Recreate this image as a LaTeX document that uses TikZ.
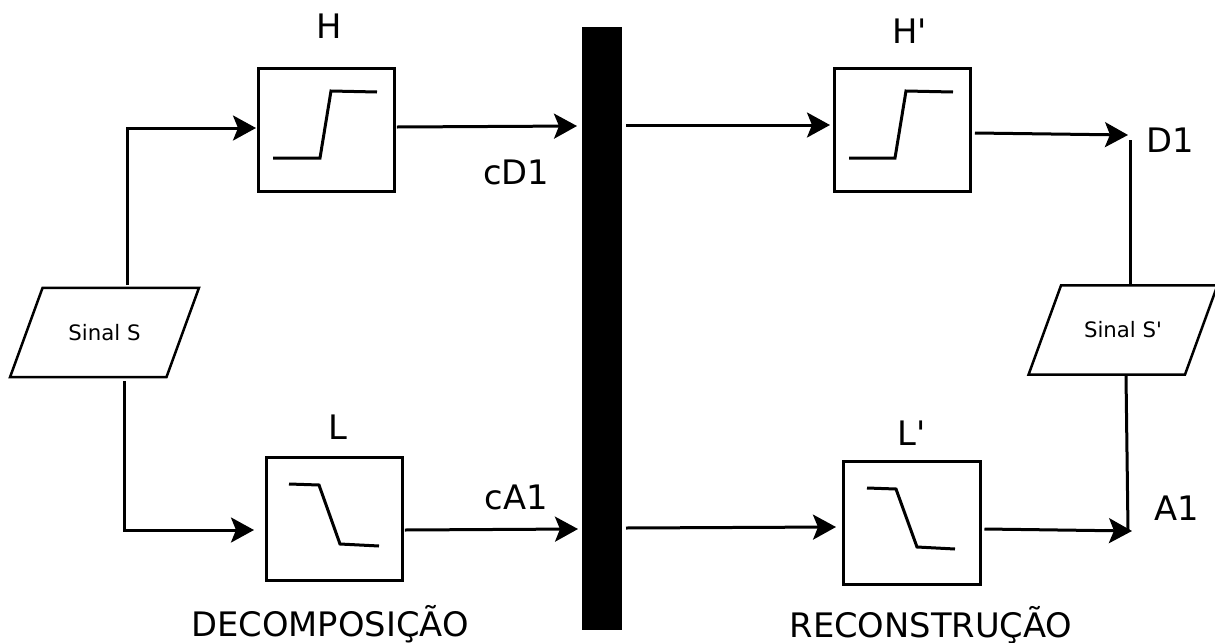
\documentclass[tikz,border=0pt]{standalone}
\usepackage{fontspec}
\setmainfont{DejaVu Sans}
\usetikzlibrary{arrows.meta, positioning, shapes.geometric}
\newcommand{\linew}{0.06cm}
\tikzstyle{filterbox} = [% filter block
  rectangle,
  minimum width=2.74cm,
  minimum height=2.48cm,
  outer sep=0pt,
  line width=\linew,
  draw=black
  ]
\tikzstyle{signalbox} = [% signal block
  trapezium,
  trapezium left angle=70,
  trapezium right angle=110,
  trapezium stretches body=true,
  minimum width=3.78cm,
  minimum height=1.78cm,
  inner xsep=0pt,
  inner ysep=0.73cm,
  outer sep=0pt,
  line width=0.05cm,
  text centered,
  draw=black,
  font=\fontsize{12.1}{13}\selectfont
  ]
\tikzstyle{barbox} = [% black bar
  rectangle,
  minimum width=0.8cm,
  minimum height=12.06cm,
  outer sep=0pt,
  fill=black
  ]
\tikzstyle{tagtext} = [% label
  inner sep=0pt,
  font=\fontsize{19.2}{20}\selectfont
  ]
\tikzstyle{arrow} = [% arrow format
  line width=\linew,
  -{Stealth[length=0.46cm,width=0.5cm,inset=0.1cm]}
  ]
\tikzstyle{wire} = [% plain line
  line width=\linew
  ]

\begin{document}
\begin{tikzpicture}[x=0.02cm,y=-0.02cm]
\useasboundingbox (0,0) rectangle (1215,643);

%%% Nodes
\node[barbox] (bar) at (602,328.5) {};
\node[filterbox] (H) at (326.5,130) {};
\node[filterbox] (Hp) at (902.5,130) {};
\node[filterbox] (L) at (334.5,519) {};
\node[filterbox] (Lp) at (912,523) {};
\node[signalbox] (S) at (104.5,332.5) {Sinal S};
\node[signalbox] (Sp) at (1123,330) {Sinal S\textquotesingle};

%%% Labels
\node[tagtext] (Hname) [above=0.58cm of H, xshift=0.06cm] {H};
\node[tagtext] (Hpname) [above=0.48cm of Hp, xshift=0.14cm] {H\textquotesingle};
\node[tagtext] (Lname) [above=0.34cm of L, xshift=0.06cm] {L};
\node[tagtext] (Lpname) [above=0.30cm of Lp] {L\textquotesingle};
\node[tagtext] (cD) at (516,172) {cD1};
\node[tagtext] (cA) at (516,497) {cA1};
\node[tagtext] (D) at (1170,140) {D1};
\node[tagtext] (A) at (1177,508) {A1};
\node[tagtext] (dec) at (330,624) {DECOMPOSIÇÃO};
\node[tagtext] (rec) at (931,625) {RECONSTRUÇÃO};

%%% Free ends
\coordinate (Stop) at (127,285);
\coordinate (Sbot) at (124,381);
\coordinate (Hin) at (256,128);
\coordinate (Lin) at (254,530);
\coordinate (cDend) at (577,126);
\coordinate (cAend) at (578,529);
\coordinate (Hpstart) at (626,125);
\coordinate (Lpstart) at (626,528);
\coordinate (Hpin) at (830,125);
\coordinate (Lpin) at (836,527);
\coordinate (Dend) at (1128,135);
\coordinate (Aend) at (1132,531);
\coordinate (Dtop) at (1130,140);
\coordinate (Sptop) at (1130,285);
\coordinate (Spbot) at (1126,375);
\coordinate (Spend) at (1128,530);

%%% Connectors
\draw[arrow] (Stop) |- (Hin);
\draw[arrow] (Sbot) |- (Lin);
\draw[arrow] (H.east) ++(2,-3) -- (cDend);
\draw[arrow] (L.east) ++(2,11) -- (cAend);
\draw[arrow] (Hpstart) -- (Hpin);
\draw[arrow] (Lpstart) -- (Lpin);
\draw[arrow] (Hp.east) ++(4,3) -- (Dend);
\draw[arrow] (Lp.east) ++(4,6) -- (Aend);
\draw[wire] (Dtop) -- (Sptop);
\draw[wire] (Spbot) -- (Spend);

%%% Filter curves
\draw[wire] (273,158) -- (320,158) -- (331,91) -- (377,92);
\draw[wire] (849,158) -- (895,158) -- (906,91) -- (953,92);
\draw[wire] (289,484) -- (319,485) -- (340,544) -- (379,546);
\draw[wire] (867,488) -- (896,489) -- (917,547) -- (955,549);

\end{tikzpicture}
\end{document}
